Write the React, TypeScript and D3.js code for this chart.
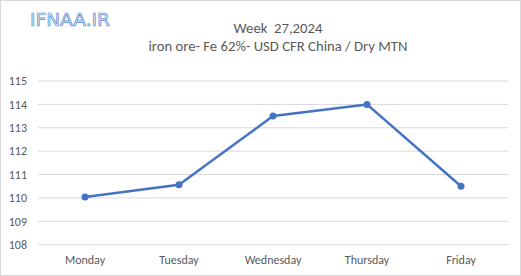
import React from "react";
import * as d3 from "d3";

const categories = ["Monday", "Tuesday", "Wednesday", "Thursday", "Friday"];
const prices = [110.04, 110.56, 113.5, 114.0, 110.5];
const yTicks = [108, 109, 110, 111, 112, 113, 114, 115];
const title = "Week  27,2024";
const subtitle = "iron ore- Fe 62%- USD CFR China / Dry MTN";
const logo = "IFNAA.IR";

export default function App() {
  const W = 521, H = 276;
  const left = 38, right = 508, top = 81, bottom = 244.7;
  const x = d3.scaleBand<string>().domain(categories).range([left, right]);
  const y = d3.scaleLinear().domain([108, 115]).range([bottom, top]);
  const line = d3.line<number>()
    .x((_, i) => (x(categories[i]) as number) + x.bandwidth() / 2)
    .y((d) => y(d));
  const font = "Carlito, Calibri, 'Liberation Sans', 'Open Sans', sans-serif";
  return (
    <svg width={W} height={H} style={{ position: "absolute", left: 0, top: 0 }} fontFamily={font}>
      <rect x={0.5} y={0.5} width={W - 1} height={H - 1} fill="#fff" stroke="#d9d9d9" />
      <text x={30} y={26} fontSize={18.5} fill="#dde9f7" stroke="#5b8bd0" strokeWidth={0.7} fontFamily="'DejaVu Sans', sans-serif" textLength={80} lengthAdjust="spacingAndGlyphs">{logo}</text>
      <text x={278} y={33} textAnchor="middle" fontSize={14.7} fill="#595959" style={{ whiteSpace: "pre" }}>{title}</text>
      <text x={278} y={51} textAnchor="middle" fontSize={14.7} fill="#595959">{subtitle}</text>
      {yTicks.map((t) => (
        <g key={t}>
          <line x1={left} x2={right} y1={y(t)} y2={y(t)} stroke="#d9d9d9" strokeWidth={1} />
          <text x={27} y={y(t)} dy="0.35em" textAnchor="end" fontSize={12} fill="#595959">{t}</text>
        </g>
      ))}
      {categories.map((c) => (
        <text key={c} x={(x(c) as number) + x.bandwidth() / 2} y={260} dy="0.35em" textAnchor="middle" fontSize={12} fill="#595959">{c}</text>
      ))}
      <path d={line(prices) || ""} fill="none" stroke="#4472c4" strokeWidth={2.5} strokeLinejoin="round" />
      {prices.map((p, i) => (
        <circle key={i} cx={(x(categories[i]) as number) + x.bandwidth() / 2} cy={y(p)} r={3.5} fill="#4472c4" />
      ))}
    </svg>
  );
}
